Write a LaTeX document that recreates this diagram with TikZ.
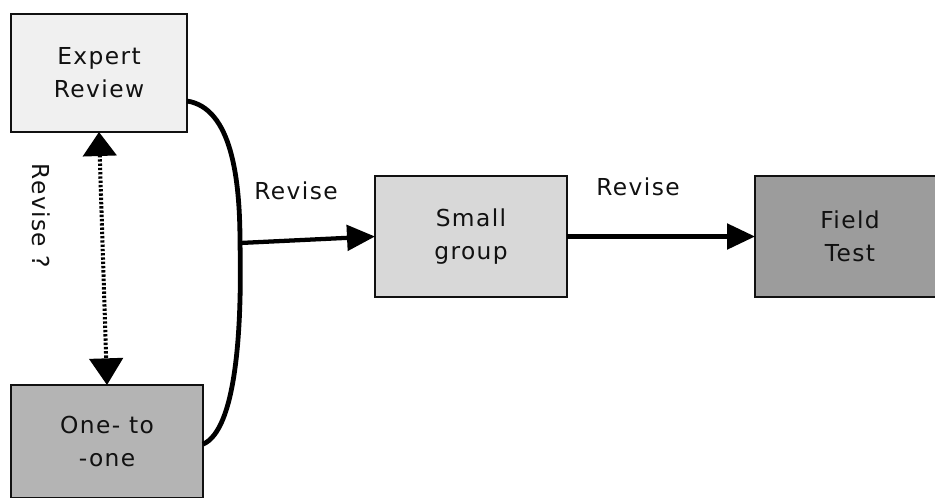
\documentclass[tikz,border=0pt]{standalone}
\usepackage{fontspec}
\setmainfont{DejaVu Sans}[LetterSpace=6]
\usetikzlibrary{arrows.meta}
\definecolor{cExpert}{HTML}{F0F0F0}
\definecolor{cSmall}{HTML}{D8D8D8}
\definecolor{cOne}{HTML}{B4B4B4}
\definecolor{cField}{HTML}{9C9C9C}
\definecolor{cInk}{HTML}{111111}
\tikzset{
  box/.style={draw=cInk, line width=1.5pt, inner sep=0pt, outer sep=0pt, align=center,
    text=cInk, font=\fontsize{17.5}{24.75}\selectfont},
  lbl/.style={text=cInk, inner sep=0pt, font=\fontsize{17.5}{20}\selectfont},
  conn/.style={draw=black, line width=3.2pt},
  tipA/.style={-{Triangle[length=21pt,width=19pt]}},
}
\begin{document}
\begin{tikzpicture}[x=0.75pt,y=-0.75pt]
\useasboundingbox (0,0) rectangle (935,497);
\clip (0,0) rectangle (935,497);
\fill[white] (0,0) rectangle (935,497);
\node[box, fill=cExpert, minimum width=132pt, minimum height=88.5pt] (expert) at (99,73) {Expert\\Review};
\node[box, fill=cOne, minimum width=144pt, minimum height=84.75pt] (one) at (107,441.5) {One- to\\-one};
\node[box, fill=cSmall, minimum width=144pt, minimum height=90.75pt] (small) at (471,236.5) {Small\\group};
\node[box, fill=cField, minimum width=142.5pt, minimum height=90.75pt] (field) at (850,236.5) {Field\\Test};
\coordinate (j) at (240,243);
% brace-like curve
\draw[conn, line width=3.6pt] ([yshift=-21pt]expert.east) .. controls (232,108) and (240,180) .. (j)
  .. controls (242,330) and (236,430) .. ([yshift=-2pt]one.east);
% arrows
\draw[conn, tipA] (j) -- (small.west);
\draw[conn, tipA] (small.east) -- (field.west);
% dotted double arrow
\draw[black, line width=3pt, dash pattern=on 1.8pt off 1.4pt,
  {Triangle[length=18pt,width=25pt]}-{Triangle[length=20pt,width=25pt]}] (expert.south) -- (one.north);
% labels
\node[lbl] (rev1) at (296,191) {Revise};
\node[lbl] (rev2) at (638,187) {Revise};
\node[lbl, rotate=-90] (rev3) at (41,216) {Revise ?};
\end{tikzpicture}
\end{document}
